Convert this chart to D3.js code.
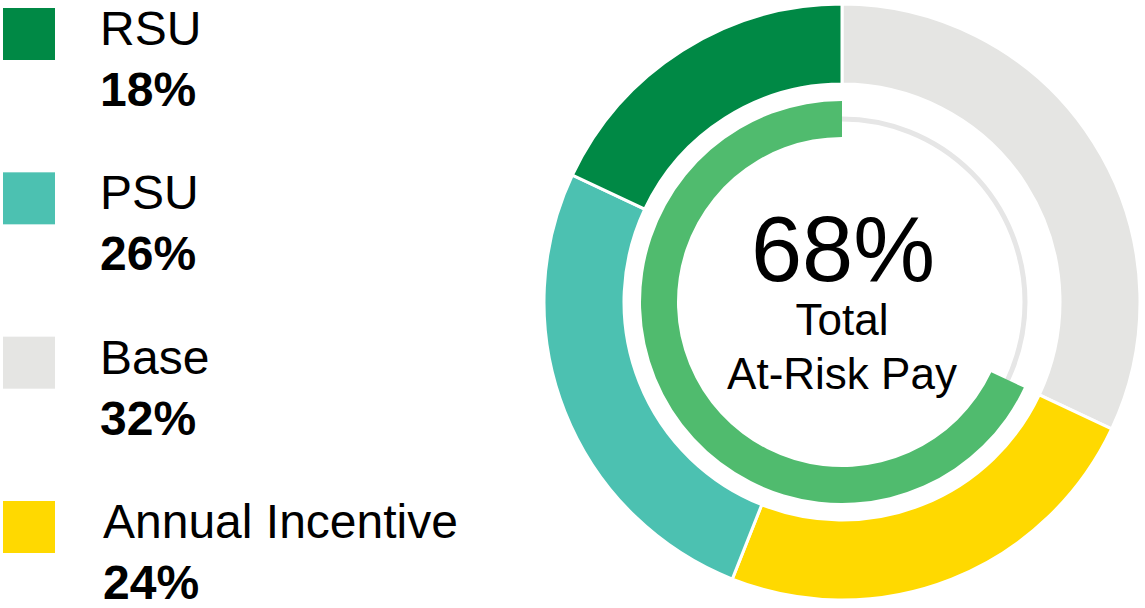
<!DOCTYPE html>
<html>
<head>
<meta charset="utf-8">
<script src="https://cdn.jsdelivr.net/npm/d3@7"></script>
<style>
  html, body { margin: 0; padding: 0; background: #fff; }
  svg { display: block; font-family: "Liberation Sans", Arial, sans-serif; }
</style>
</head>
<body>
<div id="root"></div>
<script>
// pay mix, clockwise from 12 o'clock
var categories = ["Base", "Annual Incentive", "PSU", "RSU"];
var values = [32, 24, 26, 18];
var colors = ["#e5e5e3", "#ffd900", "#4cc1b1", "#008945"];

// legend order
var legendOrder = ["RSU", "PSU", "Base", "Annual Incentive"];

// inner ring: at-risk share
var atRisk = 68;
var centerLabel = ["Total", "At-Risk Pay"];

var width = 1145;
var height = 608;
var cx = 842;
var cy = 302;

var svg = d3.select("#root")
    .append("svg")
    .attr("width", width)
    .attr("height", height);

var color = d3.scaleOrdinal().domain(categories).range(colors);

var pie = d3.pie().sort(null).value(function (d) { return d.value; });
var outerData = pie(categories.map(function (c, i) { return { name: c, value: values[i] }; }));

var outerArc = d3.arc().innerRadius(218).outerRadius(298);

var g = svg.append("g").attr("transform", "translate(" + cx + "," + cy + ")");

g.selectAll(".seg")
    .data(outerData)
    .enter()
    .append("path")
    .classed("seg", true)
    .attr("d", outerArc)
    .attr("fill", function (d) { return color(d.data.name); })
    .attr("stroke", "#fff")
    .attr("stroke-width", 3);

// thin track behind inner ring
g.append("circle")
    .attr("r", 183)
    .attr("fill", "none")
    .attr("stroke", "#e6e6e6")
    .attr("stroke-width", 5);

// at-risk arc runs counter-clockwise from the top
var share = d3.scaleLinear().domain([0, 100]).range([0, 2 * Math.PI]);
var innerArc = d3.arc().innerRadius(165).outerRadius(201);
g.append("path")
    .attr("d", innerArc({ startAngle: 2 * Math.PI - share(atRisk), endAngle: 2 * Math.PI }))
    .attr("fill", "#50bb6e");

g.append("text")
    .attr("x", 1)
    .attr("y", -21)
    .attr("text-anchor", "middle")
    .attr("font-size", 92)
    .attr("fill", "#000")
    .text(atRisk + "%");

g.selectAll(".clabel")
    .data(centerLabel)
    .enter()
    .append("text")
    .classed("clabel", true)
    .attr("x", 0)
    .attr("y", function (d, i) { return 33 + i * 54; })
    .attr("text-anchor", "middle")
    .attr("font-size", 44)
    .attr("fill", "#000")
    .text(function (d) { return d; });

// legend
var rowY = d3.scalePoint().domain(legendOrder).range([8, 501]);

var rows = svg.selectAll(".legend")
    .data(legendOrder)
    .enter()
    .append("g")
    .classed("legend", true)
    .attr("transform", function (d) { return "translate(3," + rowY(d) + ")"; });

rows.append("rect")
    .attr("width", 52)
    .attr("height", 52)
    .attr("fill", function (d) { return color(d); });

rows.append("text")
    .attr("x", function (d) { return d === "Annual Incentive" ? 100 : 97; })
    .attr("y", 37)
    .attr("font-size", 48)
    .attr("fill", "#000")
    .text(function (d) { return d; });

rows.append("text")
    .attr("x", function (d) { return d === "Annual Incentive" ? 100 : 97; })
    .attr("y", 98)
    .attr("font-size", 48)
    .attr("font-weight", "bold")
    .attr("fill", "#000")
    .text(function (d) { return values[categories.indexOf(d)] + "%"; });
</script>
</body>
</html>
